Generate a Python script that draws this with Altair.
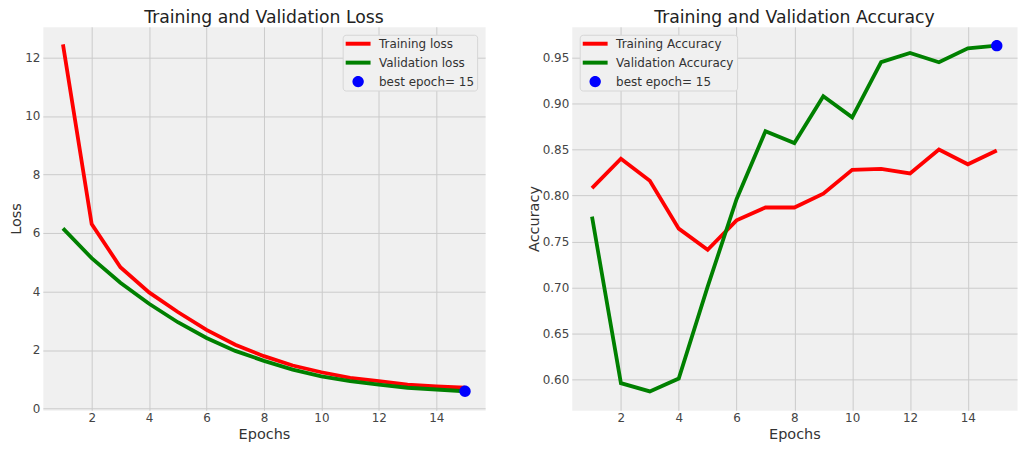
import altair as alt
import pandas as pd

# ---- data ----
epochs = list(range(1, 16))
train_loss = [12.45, 6.31, 4.83, 3.97, 3.30, 2.69, 2.18, 1.79, 1.47, 1.24, 1.05, 0.94, 0.82, 0.76, 0.71]
val_loss = [6.16, 5.14, 4.30, 3.58, 2.95, 2.41, 1.97, 1.63, 1.33, 1.10, 0.94, 0.82, 0.71, 0.65, 0.59]
train_acc = [0.808, 0.840, 0.816, 0.764, 0.741, 0.773, 0.787, 0.787, 0.802, 0.828, 0.829, 0.824, 0.850, 0.834, 0.849]
val_acc = [0.777, 0.596, 0.587, 0.601, 0.701, 0.796, 0.870, 0.857, 0.908, 0.885, 0.945, 0.955, 0.945, 0.960, 0.963]
best_epoch = 15

loss_names = ["Training loss", "Validation loss", f"best epoch= {best_epoch}"]
acc_names = ["Training Accuracy", "Validation Accuracy", f"best epoch= {best_epoch}"]
colors = ["red", "green", "blue"]

x_ticks = [2, 4, 6, 8, 10, 12, 14]
loss_ticks = [0, 2, 4, 6, 8, 10, 12]
acc_ticks = [0.60, 0.65, 0.70, 0.75, 0.80, 0.85, 0.90, 0.95]

FONT = "DejaVu Sans"
# legend glyphs: a thick horizontal bar for the lines, a disc for the best epoch
BAR = "M-2.19,-0.35H2.19V0.35H-2.19Z"
DISC = "M-1,0A1,1,0,1,1,1,0A1,1,0,1,1,-1,0Z"


def long_df(a, b, names):
    rows = []
    for e, v in zip(epochs, a):
        rows.append({"Epochs": e, "value": v, "series": names[0]})
    for e, v in zip(epochs, b):
        rows.append({"Epochs": e, "value": v, "series": names[1]})
    return pd.DataFrame(rows)


def legend_for(orient):
    return alt.Legend(
        title=None,
        orient=orient,
        offset=8,
        padding=3,
        fillColor="#f0f0f0",
        strokeColor="#d6d6d6",
        cornerRadius=3,
        symbolSize=130,
        symbolStrokeWidth=0,
        symbolOpacity=1,
        symbolOffset=6.5,
        labelOffset=15,
        rowPadding=7,
        labelFont=FONT,
        labelFontSize=12,
        labelColor="#333333",
        labelLimit=300,
    )


def panel(df, best_val, names, ydom, yticks, yfmt, ytitle, title, orient, width):
    leg = legend_for(orient)
    x = alt.X(
        "Epochs:Q",
        scale=alt.Scale(domain=[0.3, 15.7], nice=False, zero=False),
        axis=alt.Axis(values=x_ticks, title="Epochs", format="d"),
    )
    y = alt.Y(
        "value:Q",
        scale=alt.Scale(domain=ydom, nice=False, zero=False),
        axis=alt.Axis(values=yticks, title=ytitle, format=yfmt),
    )
    lines = alt.Chart(df).mark_line(strokeWidth=3.8).encode(
        x=x,
        y=y,
        stroke=alt.Stroke("series:N", scale=alt.Scale(domain=names[:2], range=colors[:2]), legend=None),
    )
    best_df = pd.DataFrame({"Epochs": [best_epoch], "value": [best_val], "series": [names[2]]})
    pt = alt.Chart(best_df).mark_point(size=130, filled=True, opacity=1, strokeWidth=0).encode(
        x=x,
        y=y,
        color=alt.Color("series:N", scale=alt.Scale(domain=names, range=colors), legend=leg),
        shape=alt.Shape("series:N", scale=alt.Scale(domain=names, range=[BAR, BAR, DISC]), legend=leg),
    )
    return alt.layer(lines, pt).properties(
        width=width,
        height=385,
        title=alt.Title(
            title,
            font=FONT,
            fontSize=17.3,
            fontWeight="normal",
            color="#222222",
            baseline="alphabetic",
            offset=-14,
            anchor="middle",
            frame="group",
        ),
    )


loss_df = long_df(train_loss, val_loss, loss_names)
acc_df = long_df(train_acc, val_acc, acc_names)

left = panel(loss_df, val_loss[best_epoch - 1], loss_names, [-0.06, 13.05], loss_ticks, "d",
             "Loss", "Training and Validation Loss", "top-right", 444)
right = panel(acc_df, val_acc[best_epoch - 1], acc_names, [0.5665, 0.9835], acc_ticks, ".2f",
              "Accuracy", "Training and Validation Accuracy", "top-left", 447)

chart = (
    alt.hconcat(left, right, spacing=87, bounds="flush")
    .resolve_scale(color="independent", shape="independent", stroke="independent")
    .resolve_legend(color="independent", shape="independent")
    .configure(padding={"left": 0, "top": 0, "right": 0, "bottom": 0}, background="white")
    .configure_view(fill="#f0f0f0", stroke="transparent")
    .configure_axis(
        domain=False,
        ticks=False,
        grid=True,
        gridColor="#cbcbcb",
        gridWidth=1,
        labelFont=FONT,
        labelFontSize=12,
        labelColor="#444444",
        labelFlush=False,
        titleFont=FONT,
        titleFontSize=14.5,
        titleFontWeight="normal",
        titleColor="#333333",
    )
    .configure_axisX(labelPadding=2, titlePadding=4)
    .configure_axisY(labelPadding=3, titlePadding=1)
)

chart.save("out.html", embed_options={"renderer": "svg", "actions": False})
